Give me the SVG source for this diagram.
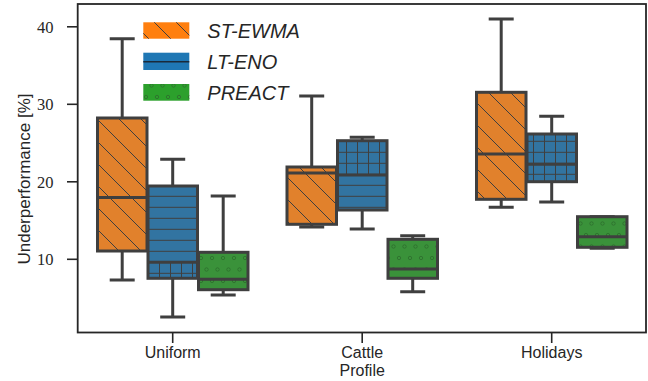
<svg xmlns="http://www.w3.org/2000/svg" width="648" height="381" viewBox="0 0 648 381">
  <style>
    .spine { stroke: #262626; stroke-width: 1.8; fill: none; }
    .tick { stroke: #262626; stroke-width: 1.6; }
    .ytl { font-family: "Liberation Serif", serif; font-size: 16.5px; fill: #262626; text-anchor: end; }
    .xtl { font-family: "Liberation Sans", Arial, sans-serif; font-size: 16px; fill: #262626; text-anchor: middle; }
    .lbl { font-family: "Liberation Sans", Arial, sans-serif; font-size: 17px; fill: #262626; text-anchor: middle; }
    .leg { font-family: "Liberation Sans", Arial, sans-serif; font-size: 20px; font-style: italic; fill: #262626; }
    .box { stroke: #3f3f3f; stroke-width: 3; }
    .part { stroke: none; }
    .whisk { stroke: #3f3f3f; stroke-width: 3; fill: none; }
    .med { stroke: #3f3f3f; stroke-width: 3; }
  </style>
  <defs>
    <!-- "\" diagonal hatch -->
    <pattern id="h-diag" patternUnits="userSpaceOnUse" width="22" height="22">
      <path d="M-2,-2 L24,24 M-2,20 L2,24 M20,-2 L24,2" stroke="#3f3f3f" stroke-width="1"/>
    </pattern>
    <!-- "-" horizontal hatch -->
    <pattern id="h-horz" patternUnits="userSpaceOnUse" width="11" height="11">
      <path d="M0,9.3 H11" stroke="#3f3f3f" stroke-width="1"/>
    </pattern>
    <!-- "+" grid hatch -->
    <pattern id="h-grid" patternUnits="userSpaceOnUse" width="11" height="11">
      <path d="M0,9.3 H11 M5.5,0 V11" stroke="#3f3f3f" stroke-width="1"/>
    </pattern>
    <!-- "o" small circle hatch -->
    <pattern id="h-circ" patternUnits="userSpaceOnUse" width="11" height="23">
      <circle cx="3" cy="5" r="1.7" fill="none" stroke="#2c6f2c" stroke-width="0.9"/>
      <circle cx="8.5" cy="16.5" r="1.7" fill="none" stroke="#2c6f2c" stroke-width="0.9"/>
    </pattern>
  </defs>

  <rect width="648" height="381" fill="#ffffff"/>

  <!-- axes frame -->
  <rect class="spine" x="77.7" y="4" width="568.3" height="328.5"/>

  <!-- y ticks -->
  <g id="y-axis">
    <line class="tick" x1="67" y1="259.3" x2="77.7" y2="259.3"/>
    <line class="tick" x1="67" y1="181.8" x2="77.7" y2="181.8"/>
    <line class="tick" x1="67" y1="104.3" x2="77.7" y2="104.3"/>
    <line class="tick" x1="67" y1="26.8" x2="77.7" y2="26.8"/>
    <text class="ytl" x="53.5" y="265.3">10</text>
    <text class="ytl" x="53.5" y="187.8">20</text>
    <text class="ytl" x="53.5" y="110.3">30</text>
    <text class="ytl" x="53.5" y="32.8">40</text>
    <text class="lbl" transform="translate(29.5,179) rotate(-90)">Underperformance [%]</text>
  </g>

  <!-- x ticks -->
  <g id="x-axis">
    <line class="tick" x1="172.7" y1="332.5" x2="172.7" y2="343"/>
    <line class="tick" x1="362.2" y1="332.5" x2="362.2" y2="343"/>
    <line class="tick" x1="551.7" y1="332.5" x2="551.7" y2="343"/>
    <text class="xtl" x="172.7" y="358.3">Uniform</text>
    <text class="xtl" x="362.2" y="358">Cattle</text>
    <text class="xtl" x="551.7" y="358.3">Holidays</text>
    <text class="xtl" x="362.2" y="376">Profile</text>
  </g>

  <!-- whiskers and caps -->
  <g id="connectors">
    <!-- Uniform -->
    <path class="whisk" d="M122.2,118 V38.7 M109.7,38.7 H134.7 M122.2,251 V280 M109.7,280 H134.7"/>
    <path class="whisk" d="M172.7,186 V159.3 M160.2,159.3 H185.2 M172.7,278.3 V317 M160.2,317 H185.2"/>
    <path class="whisk" d="M223.2,252.3 V196 M210.7,196 H235.7 M223.2,289.7 V295 M210.7,295 H235.7"/>
    <!-- Cattle -->
    <path class="whisk" d="M311.7,167 V96 M299.2,96 H324.2 M311.7,224.3 V227 M299.2,227 H324.2"/>
    <path class="whisk" d="M362.2,140.7 V137.3 M349.7,137.3 H374.7 M362.2,210 V229 M349.7,229 H374.7"/>
    <path class="whisk" d="M412.7,239.3 V235.7 M400.2,235.7 H425.2 M412.7,278.3 V291.7 M400.2,291.7 H425.2"/>
    <!-- Holidays -->
    <path class="whisk" d="M501.2,92.3 V19 M488.7,19 H513.7 M501.2,199.3 V207.3 M488.7,207.3 H513.7"/>
    <path class="whisk" d="M551.7,134 V116.3 M539.2,116.3 H564.2 M551.7,181.7 V202 M539.2,202 H564.2"/>
    <path class="whisk" d="M602.2,216.7 V216.7 M589.7,216.7 H614.7 M602.2,247.3 V248.3 M589.7,248.3 H614.7"/>
  </g>

  <!-- Uniform -->
  <g id="uniform-st-ewma">
    <rect x="97.5" y="118" width="49.5" height="133" fill="#e1812c"/>
    <rect class="part" x="97.5" y="118" width="49.5" height="133" fill="url(#h-diag)"/>
    <rect class="box" x="97.5" y="118" width="49.5" height="133" fill="none"/>
    <line class="med" x1="97.5" y1="197.5" x2="147" y2="197.5"/>
  </g>
  <g id="uniform-lt-eno">
    <rect x="148" y="186" width="49.5" height="92.3" fill="#3274a1"/>
    <rect class="part" x="148" y="186" width="49.5" height="76.3" fill="url(#h-horz)"/>
    <rect class="part" x="148" y="262.3" width="49.5" height="16" fill="url(#h-grid)"/>
    <rect class="box" x="148" y="186" width="49.5" height="92.3" fill="none"/>
    <line class="med" x1="148" y1="262.3" x2="197.5" y2="262.3"/>
  </g>
  <g id="uniform-preact">
    <rect x="198.5" y="252.3" width="49.5" height="37.4" fill="#3a923a"/>
    <rect class="part" x="198.5" y="252.3" width="49.5" height="37.4" fill="url(#h-circ)"/>
    <rect class="box" x="198.5" y="252.3" width="49.5" height="37.4" fill="none"/>
    <line class="med" x1="198.5" y1="279.3" x2="248" y2="279.3"/>
  </g>

  <!-- Cattle -->
  <g id="cattle-st-ewma">
    <rect x="287" y="167" width="49.5" height="57.3" fill="#e1812c"/>
    <rect class="part" x="287" y="167" width="49.5" height="57.3" fill="url(#h-diag)"/>
    <rect class="box" x="287" y="167" width="49.5" height="57.3" fill="none"/>
    <line class="med" x1="287" y1="173" x2="336.5" y2="173"/>
  </g>
  <g id="cattle-lt-eno">
    <rect x="337.5" y="140.7" width="49.5" height="69.3" fill="#3274a1"/>
    <rect class="part" x="337.5" y="140.7" width="49.5" height="34.3" fill="url(#h-grid)"/>
    <rect class="part" x="337.5" y="175" width="49.5" height="35" fill="url(#h-horz)"/>
    <rect class="box" x="337.5" y="140.7" width="49.5" height="69.3" fill="none"/>
    <line class="med" x1="337.5" y1="175" x2="387" y2="175"/>
  </g>
  <g id="cattle-preact">
    <rect x="388" y="239.3" width="49.5" height="39" fill="#3a923a"/>
    <rect class="part" x="388" y="239.3" width="49.5" height="29.7" fill="url(#h-circ)"/>
    <rect class="box" x="388" y="239.3" width="49.5" height="39" fill="none"/>
    <line class="med" x1="388" y1="269" x2="437.5" y2="269"/>
  </g>

  <!-- Holidays -->
  <g id="holidays-st-ewma">
    <rect x="476.5" y="92.3" width="49.5" height="107" fill="#e1812c"/>
    <rect class="part" x="476.5" y="92.3" width="49.5" height="107" fill="url(#h-diag)"/>
    <rect class="box" x="476.5" y="92.3" width="49.5" height="107" fill="none"/>
    <line class="med" x1="476.5" y1="154" x2="526" y2="154"/>
  </g>
  <g id="holidays-lt-eno">
    <rect x="527" y="134" width="49.5" height="47.7" fill="#3274a1"/>
    <rect class="part" x="527" y="134" width="49.5" height="47.7" fill="url(#h-grid)"/>
    <rect class="box" x="527" y="134" width="49.5" height="47.7" fill="none"/>
    <line class="med" x1="527" y1="164.3" x2="576.5" y2="164.3"/>
  </g>
  <g id="holidays-preact">
    <rect x="577.5" y="216.7" width="49.5" height="30.6" fill="#3a923a"/>
    <rect class="part" x="577.5" y="216.7" width="49.5" height="30.6" fill="url(#h-circ)"/>
    <rect class="box" x="577.5" y="216.7" width="49.5" height="30.6" fill="none"/>
    <line class="med" x1="577.5" y1="236.7" x2="627" y2="236.7"/>
  </g>

  <!-- legend -->
  <g id="legend">
    <rect x="143.3" y="22.3" width="46" height="16.4" fill="#ff7f0e"/>
    <rect x="143.3" y="22.3" width="46" height="16.4" fill="url(#h-diag)"/>
    <rect x="143.3" y="52.7" width="46" height="17.3" fill="#1f77b4"/>
    <line x1="143.3" y1="61.7" x2="189.3" y2="61.7" stroke="#1a2a3a" stroke-width="1.5"/>
    <rect x="143.3" y="84" width="46" height="16.7" fill="#2ca02c"/>
    <rect x="143.3" y="84" width="46" height="16.7" fill="url(#h-circ)"/>
    <text class="leg" x="207.3" y="38.3">ST-EWMA</text>
    <text class="leg" x="207.3" y="69">LT-ENO</text>
    <text class="leg" x="207.3" y="100">PREACT</text>
  </g>
</svg>
